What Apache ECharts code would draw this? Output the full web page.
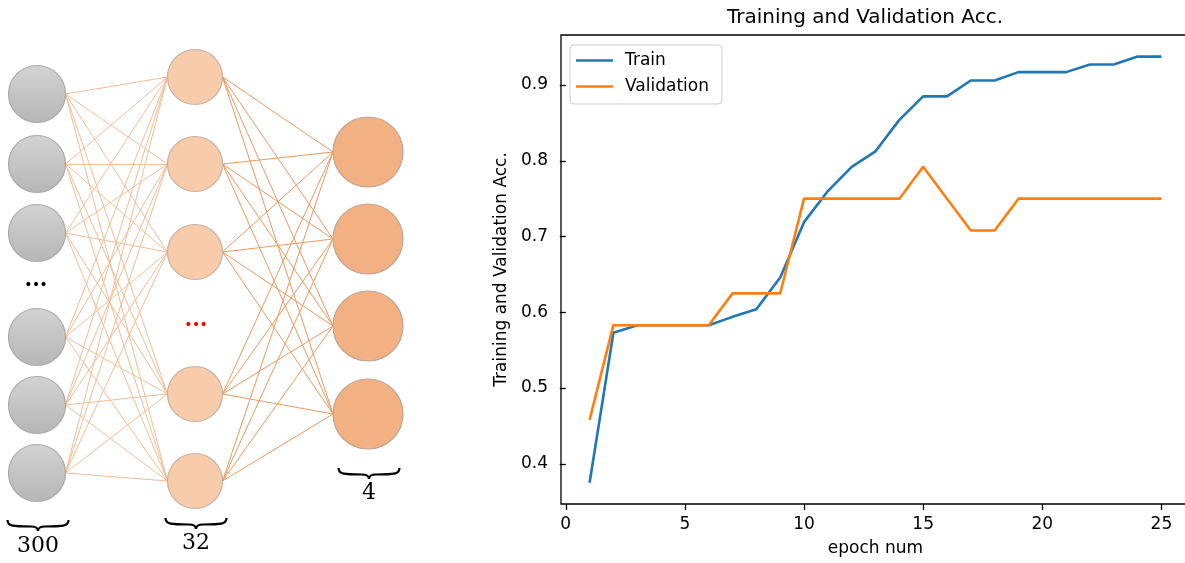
<!DOCTYPE html>
<html><head><meta charset="utf-8">
<script src="https://cdn.jsdelivr.net/npm/echarts@6/dist/echarts.min.js"></script>
<style>html,body{margin:0;padding:0;background:#fff}#c{width:1185px;height:563px}</style>
</head><body><div id="c"></div>
<script>
// ---- Line chart data ----
const epochs = [1,2,3,4,5,6,7,8,9,10,11,12,13,14,15,16,17,18,19,20,21,22,23,24,25];
const trainAcc = [0.375,0.573,0.583,0.583,0.583,0.583,0.594,0.604,0.646,0.719,0.760,0.792,0.8125,0.854,0.885,0.885,0.906,0.906,0.917,0.917,0.917,0.927,0.927,0.9375,0.9375];
const valAcc = [0.458,0.583,0.583,0.583,0.583,0.583,0.625,0.625,0.625,0.750,0.750,0.750,0.750,0.750,0.792,0.750,0.708,0.708,0.750,0.750,0.750,0.750,0.750,0.750,0.750];
const xTicks = [0,5,10,15,20,25];
const yTicks = [0.4,0.5,0.6,0.7,0.8,0.9];
const seriesNames = ['Train','Validation'];
const chartTitle = 'Training and Validation Acc.';
const xName = 'epoch num';
const yName = 'Training and Validation Acc.';

// ---- Network diagram data (diagram units) ----
const layerLabels = ['300','32','4'];
const layerX = [37, 195, 368];
const inputY = [94, 164, 233, 337, 405, 473];
const hiddenY = [77, 164, 252, 394, 481];
const outputY = [152, 239, 326, 414];

const FONT = '"DejaVu Sans", sans-serif';
const SERIF = '"DejaVu Serif", serif';
const radius = [28.5, 27.5, 35];
const layers = [inputY, hiddenY, outputY];

function edges(a) {
  const out = [];
  layers[a].forEach(y1 => layers[a+1].forEach(y2 => {
    out.push({coords: [[layerX[a] + radius[a], y1], [layerX[a+1] - radius[a+1], y2]]});
  }));
  return out;
}

const nodeFill = [
  {type:'linear',x:0,y:0,x2:0,y2:1,colorStops:[{offset:0,color:'#D3D3D3'},{offset:1,color:'#B6B6B6'}]},
  '#F8CCAA',
  '#F2B083'
];
const nodeBorder = ['#A9A9A9','#C4B3A6','#BEA594'];

const chart = echarts.init(document.getElementById('c'));

const braceTop = [520, 518, 468];
const labelY = [546, 543, 493];
function brace(cx, top, w) {
  const h = w/2, s = {stroke:'#000', lineWidth:2.2, fill:null};
  const mk = sh => ({type:'bezierCurve', shape: sh, style: s, silent: true, z: 10});
  return [
    mk({x1: cx-h, y1: top, cpx1: cx-h, cpy1: top+6.5, cpx2: cx-h+6, cpy2: top+6.5, x2: cx-7, y2: top+6.5}),
    mk({x1: cx-7, y1: top+6.5, cpx1: cx-2, cpy1: top+6.5, cpx2: cx, cpy2: top+8, x2: cx, y2: top+11}),
    mk({x1: cx+h, y1: top, cpx1: cx+h, cpy1: top+6.5, cpx2: cx+h-6, cpy2: top+6.5, x2: cx+7, y2: top+6.5}),
    mk({x1: cx+7, y1: top+6.5, cpx1: cx+2, cpy1: top+6.5, cpx2: cx, cpy2: top+8, x2: cx, y2: top+11})
  ];
}
const graphics = [];
layerLabels.forEach((t,i) => {
  graphics.push(...brace(layerX[i]+1, braceTop[i], 61));
  graphics.push({type:'text', x: layerX[i]+1, y: labelY[i], style:{text:t, font:'22px ' + SERIF, fill:'#000', align:'center', verticalAlign:'middle'}, z:10});
});
graphics.push({type:'text', x: 36, y: 280, style:{text:'...', font:'bold 22px ' + SERIF, fill:'#000', align:'center', verticalAlign:'middle'}, z:10});
graphics.push({type:'text', x: 196, y: 320, style:{text:'...', font:'bold 22px ' + SERIF, fill:'#FF0000', align:'center', verticalAlign:'middle'}, z:10});

const option = {
  backgroundColor: '#fff',
  animation: false,
  title: {
    text: chartTitle, left: 865, top: 8, textAlign: 'center', padding: 0,
    textStyle: {fontFamily: FONT, fontSize: 20, fontWeight: 'normal', color: '#000'}
  },
  legend: {
    data: seriesNames, orient: 'vertical', left: 570, top: 45,
    icon: 'rect', itemWidth: 37, itemHeight: 2.6, itemGap: 9,
    padding: [7, 13, 9, 6],
    backgroundColor: 'rgba(255,255,255,0.8)', borderColor: '#cccccc', borderWidth: 1, borderRadius: 4,
    textStyle: {fontFamily: FONT, fontSize: 17, color: '#000', padding: [0,0,0,7]}
  },
  grid: [
    {left: 0, top: 0, width: 420, height: 563, outerBoundsMode: 'none', containLabel: false},
    {left: 561, top: 35, width: 629, height: 469, outerBoundsMode: 'none', containLabel: false,
     show: true, borderColor: '#000', borderWidth: 1.3, backgroundColor: 'transparent'}
  ],
  xAxis: [
    {type: 'value', gridIndex: 0, min: 0, max: 420, show: false},
    {type: 'value', gridIndex: 1, min: -0.2, max: 26.2,
     name: xName, nameLocation: 'middle', nameGap: 36,
     nameTextStyle: {fontFamily: FONT, fontSize: 17, color: '#000'},
     axisLine: {show: false}, splitLine: {show: false},
     axisTick: {show: true, inside: false, length: 6, customValues: xTicks, lineStyle: {color: '#000', width: 1.3}},
     axisLabel: {customValues: xTicks, margin: 12, fontFamily: FONT, fontSize: 17, color: '#000'}}
  ],
  yAxis: [
    {type: 'value', gridIndex: 0, min: 0, max: 563, inverse: true, show: false},
    {type: 'value', gridIndex: 1, min: 0.347, max: 0.966,
     name: yName, nameLocation: 'middle', nameGap: 46, nameRotate: 90,
     nameTextStyle: {fontFamily: FONT, fontSize: 17, color: '#000'},
     axisLine: {show: false}, splitLine: {show: false},
     axisTick: {show: true, inside: false, length: 6, customValues: yTicks, lineStyle: {color: '#000', width: 1.3}},
     axisLabel: {customValues: yTicks, margin: 13, fontFamily: FONT, fontSize: 17, color: '#000',
       formatter: v => v.toFixed(1)}}
  ],
  series: [
    {type: 'lines', coordinateSystem: 'cartesian2d', xAxisIndex: 0, yAxisIndex: 0, silent: true, z: 1,
     data: edges(0), lineStyle: {color: '#F2BE97', width: 1, opacity: 1}},
    {type: 'lines', coordinateSystem: 'cartesian2d', xAxisIndex: 0, yAxisIndex: 0, silent: true, z: 1,
     data: edges(1), lineStyle: {color: '#EA9A62', width: 1, opacity: 1}},
    ...layers.map((ys, i) => ({
      type: 'scatter', xAxisIndex: 0, yAxisIndex: 0, silent: true, z: 2,
      symbol: 'circle', symbolSize: radius[i]*2,
      itemStyle: {color: nodeFill[i], borderColor: nodeBorder[i], borderWidth: 1.2, opacity: 1},
      data: ys.map(y => [layerX[i], y])
    })),
    {name: seriesNames[0], type: 'line', xAxisIndex: 1, yAxisIndex: 1, symbol: 'none', z: 5,
     color: '#1f77b4', lineStyle: {width: 2.6, color: '#1f77b4'},
     data: epochs.map((e, i) => [e, trainAcc[i]])},
    {name: seriesNames[1], type: 'line', xAxisIndex: 1, yAxisIndex: 1, symbol: 'none', z: 6,
     color: '#ff7f0e', lineStyle: {width: 2.6, color: '#ff7f0e'},
     data: epochs.map((e, i) => [e, valAcc[i]])}
  ],
  graphic: graphics
};
chart.setOption(option);
</script>
</body></html>
